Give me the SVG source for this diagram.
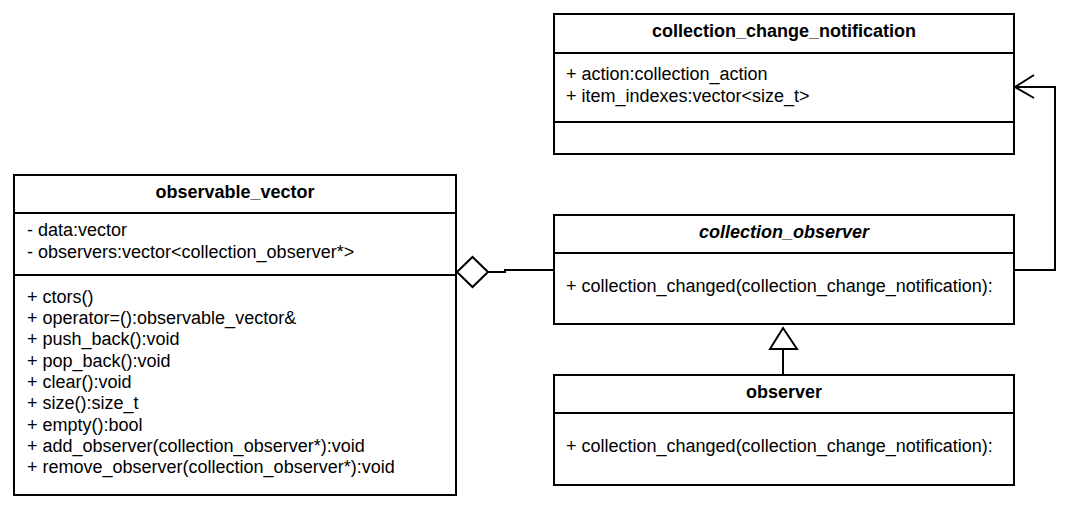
<svg xmlns="http://www.w3.org/2000/svg" width="1071" height="507" viewBox="0 0 1071 507">
<style>
.box{fill:#fff;stroke:#000;stroke-width:2}
.ln{stroke:#000;stroke-width:2;fill:none}
.t{font-family:"Liberation Sans",Arial,sans-serif;font-size:18px;fill:#000}
.h{font-family:"Liberation Sans",Arial,sans-serif;font-size:18px;font-weight:bold;fill:#000;text-anchor:middle}
</style>
<rect width="1071" height="507" fill="#fff"/>
<g id="connectors">
<path class="ln" d="M488,272 L505,272 L505,270 L554,270"/>
<polygon points="457,272 472.5,257 488,272 472.5,287" fill="#fff" stroke="#000" stroke-width="2"/>
<path class="ln" d="M1014,270 L1055,270 L1055,87 L1015,87"/>
<path class="ln" d="M1034,75 L1015,87 L1034,98"/>
<path class="ln" d="M783,349 L783,375"/>
<polygon points="783,328 797,349 770,349" fill="#fff" stroke="#000" stroke-width="2"/>
</g>
<g id="collection_change_notification">
<rect class="box" x="554" y="14" width="460" height="140"/>
<line class="ln" x1="554" y1="53" x2="1014" y2="53"/>
<line class="ln" x1="554" y1="122" x2="1014" y2="122"/>
<text class="h" x="784" y="37">collection_change_notification</text>
<text class="t" x="566" y="80">+ action:collection_action</text>
<text class="t" x="566" y="102">+ item_indexes:vector&lt;size_t&gt;</text>
</g>
<g id="observable_vector">
<rect class="box" x="14" y="175" width="442" height="320"/>
<line class="ln" x1="14" y1="213" x2="456" y2="213"/>
<line class="ln" x1="14" y1="275" x2="456" y2="275"/>
<text class="h" x="235" y="198">observable_vector</text>
<text class="t" x="27" y="236">- data:vector</text>
<text class="t" x="27" y="258">- observers:vector&lt;collection_observer*&gt;</text>
<text class="t" x="27" y="303">+ ctors()</text>
<text class="t" x="27" y="324">+ operator=():observable_vector&amp;</text>
<text class="t" x="27" y="345">+ push_back():void</text>
<text class="t" x="27" y="367">+ pop_back():void</text>
<text class="t" x="27" y="388">+ clear():void</text>
<text class="t" x="27" y="409">+ size():size_t</text>
<text class="t" x="27" y="431">+ empty():bool</text>
<text class="t" x="27" y="452">+ add_observer(collection_observer*):void</text>
<text class="t" x="27" y="473">+ remove_observer(collection_observer*):void</text>
</g>
<g id="collection_observer">
<rect class="box" x="554" y="215" width="460" height="109"/>
<line class="ln" x1="554" y1="253" x2="1014" y2="253"/>
<text class="h" x="784" y="238" font-style="italic">collection_observer</text>
<text class="t" x="566" y="292">+ collection_changed(collection_change_notification):</text>
</g>
<g id="observer">
<rect class="box" x="554" y="375" width="460" height="110"/>
<line class="ln" x1="554" y1="413" x2="1014" y2="413"/>
<text class="h" x="784" y="398">observer</text>
<text class="t" x="566" y="452">+ collection_changed(collection_change_notification):</text>
</g>
</svg>
